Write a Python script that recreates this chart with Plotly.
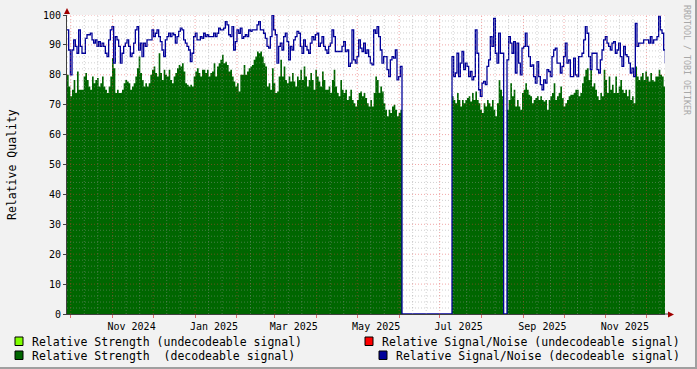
import pandas as pd
import plotly.graph_objects as go

# ---------------- data ----------------
series_start = "2024-09-28 05:00"
sample_step = "1776min"          # ~29.6 h per sample

snr_decodeable = [
    95.0, 88.3, 80.0, 88.3, 91.7, 89.5, 87.2, 95.0, 89.5, 87.2,
    87.2, 92.2, 93.4, 93.4, 93.9, 91.7, 90.6, 91.7, 89.5, 91.1,
    89.5, 90.6, 89.5, 87.2, 86.1, 91.7, 95.0, 96.1, 83.9, 92.8,
    91.7, 89.5, 83.9, 87.2, 89.5, 90.6, 91.7, 89.5, 86.1, 87.2,
    90.6, 95.0, 96.1, 88.3, 90.6, 86.1, 90.6, 89.5, 91.7, 91.7,
    91.7, 95.0, 92.8, 93.9, 95.0, 92.8, 91.1, 88.3, 86.1, 91.7,
    92.8, 93.9, 92.8, 93.9, 93.4, 90.6, 92.8, 94.5, 95.6, 95.0,
    91.7, 90.6, 89.5, 88.3, 84.4, 87.2, 92.8, 93.9, 91.7, 91.7,
    92.8, 92.2, 93.9, 92.8, 93.4, 92.8, 92.8, 92.8,
    93.9, 92.8, 93.9, 95.6, 95.0, 95.0, 95.6, 97.8, 96.7, 93.4,
    92.8, 96.1, 88.3, 91.1, 95.0, 93.9, 95.6, 92.2, 92.8, 93.4,
    92.8, 95.0, 94.5, 95.0, 95.0, 95.0, 96.7, 97.8, 95.0, 95.0,
    93.9, 92.2, 89.5, 88.9, 92.8, 100.0, 95.0, 93.4, 83.9, 89.5,
    90.6, 88.3, 92.8, 93.9, 91.1, 85.0, 89.5, 88.3, 91.7, 92.8,
    94.5, 93.9, 89.5, 87.2, 91.7, 89.5, 88.3, 87.2, 90.6, 92.8,
    91.7, 93.4, 93.9, 89.5, 90.6, 92.8, 89.5, 88.3, 87.2, 89.5,
    90.6, 95.0, 92.8, 87.8, 87.8, 87.8, 87.8, 89.5, 91.1, 87.8,
    88.3, 82.8, 83.9, 95.0, 85.0, 83.9, 86.1, 91.7, 88.9, 87.8,
    90.6, 87.2, 88.3, 86.1, 83.9, 83.3, 95.0, 93.9, 96.1, 92.8,
    88.3, 83.9, 86.1, 86.1, 81.7, 79.4, 85.0, 86.1, 85.6, 88.3,
    78.3, 79.4, 82.8,
    0, 0, 0, 0, 0, 0, 0, 0, 0, 0,
    0, 0, 0, 0, 0, 0, 0, 0, 0, 0,
    0, 0, 0, 0, 0, 0, 0, 0, 0, 0,
    86.1, 79.4, 80.6, 87.2, 79.4, 83.9, 87.8, 81.7, 83.9, 82.8,
    79.4, 81.1, 78.3, 79.4, 95.0, 87.2, 75.0, 72.8, 77.2, 77.8,
    76.7, 82.8, 85.0, 92.8, 89.5, 98.9, 87.2, 83.9, 93.9, 87.2,
    87.2, 0, 0, 85.0, 92.8, 90.6, 87.2,
    91.1, 80.6, 90.6, 83.9, 80.0, 88.9, 89.5, 93.9, 89.5, 86.1,
    82.8, 83.3, 79.4, 77.2, 84.4, 79.4, 76.7, 75.0, 78.3, 77.2,
    81.7, 81.1, 79.4, 86.1, 88.3, 88.9, 83.9, 83.9, 80.6, 82.8,
    86.1, 90.6, 83.9, 85.0, 79.4, 79.4, 85.6, 80.0, 79.4, 86.1,
    86.1, 87.2, 91.7, 96.1, 93.9, 86.1, 81.7, 87.2, 87.2, 87.2,
    81.7, 80.6, 85.0, 88.3, 91.7, 92.8, 90.6, 89.5, 88.3, 90.6,
    91.1, 87.2, 88.3, 90.6, 86.1, 82.8, 89.5, 86.7, 86.1, 83.9,
    80.6, 82.2, 79.4, 97.2, 89.5, 90.6, 90.6, 90.6, 91.7, 91.7,
    91.7, 90.6, 92.8, 90.6, 91.7, 91.7, 92.8, 99.5, 95.0, 93.9,
    88.3, 83.9,
]

strength_decodeable = [
    80.0, 76.1, 72.8, 75.0, 78.3, 73.9, 81.1, 75.0, 75.0, 75.0,
    79.4, 80.6, 78.3, 76.1, 75.0, 79.4, 77.2, 78.3, 78.9, 76.1,
    77.2, 79.4, 76.1, 75.0, 73.9, 76.1, 79.4, 85.6, 82.2, 73.9,
    75.0, 73.9, 73.9, 75.0, 77.2, 78.3, 77.8, 77.2, 75.0, 76.1,
    77.2, 79.4, 82.2, 86.1, 80.6, 78.3, 76.1, 77.2, 76.1, 77.2,
    80.0, 81.7, 82.8, 80.6, 79.4, 87.2, 80.6, 78.3, 81.7, 80.0,
    79.4, 81.7, 78.3, 77.2, 79.4, 80.6, 82.2, 83.3, 82.8, 83.9,
    81.1, 77.2, 76.7, 76.1, 76.7, 76.1, 79.4, 81.1, 82.2, 80.6,
    79.4, 81.7, 81.7, 80.6, 81.7, 79.4, 80.6, 81.1,
    83.9, 79.4, 82.8, 83.9, 85.0, 86.7, 83.9, 84.4, 83.3, 81.1,
    81.7, 79.4, 77.8, 76.1, 77.2, 74.4, 80.0, 80.0, 83.3, 80.0,
    81.1, 82.2, 82.8, 83.3, 85.0, 86.1, 87.8, 87.2, 87.8, 86.1,
    83.9, 82.8, 76.1, 77.2, 75.0, 82.2, 77.2, 73.9, 74.4, 79.4,
    85.0, 79.4, 82.8, 78.3, 77.2, 79.4, 77.8, 80.6, 77.8, 76.1,
    79.4, 78.3, 81.7, 78.3, 82.8, 79.4, 76.1, 78.3, 80.6, 78.3,
    75.0, 81.7, 79.4, 77.8, 76.1, 81.1, 78.3, 75.0, 75.0, 76.1,
    73.9, 78.3, 81.7, 76.1, 73.9, 72.8, 78.3, 75.0, 73.9, 75.0,
    71.6, 72.8, 75.0, 71.6, 70.5, 69.4, 71.6, 73.9, 74.4, 72.8,
    73.9, 72.2, 70.5, 69.4, 71.6, 69.4, 73.9, 79.4, 78.3, 73.9,
    76.1, 74.4, 70.5, 68.3, 66.1, 68.3, 67.2, 69.4, 70.0, 68.3,
    66.1, 67.2, 68.3,
    0, 0, 0, 0, 0, 0, 0, 0, 0, 0,
    0, 0, 0, 0, 0, 0, 0, 0, 0, 0,
    0, 0, 0, 0, 0, 0, 0, 0, 0, 0,
    72.8, 71.6, 70.5, 73.9, 71.6, 69.4, 71.6, 70.5, 71.6, 72.2,
    72.8, 71.1, 73.9, 71.6, 74.4, 71.6, 70.5, 68.3, 67.2, 70.5,
    69.4, 71.6, 70.5, 69.4, 71.6, 68.3, 66.1, 70.5, 78.3, 75.0,
    72.8, 0, 0, 68.3, 71.6, 77.2, 72.8,
    75.0, 69.4, 71.6, 69.4, 68.3, 73.9, 75.0, 77.2, 75.0, 73.3,
    72.8, 70.5, 71.6, 72.2, 72.8, 71.6, 72.8, 71.6, 71.1, 71.6,
    68.3, 71.6, 72.8, 73.9, 77.2, 71.6, 72.8, 73.9, 76.1, 72.2,
    69.4, 70.5, 71.6, 72.8, 73.3, 73.3, 73.9, 75.0, 75.0, 72.8,
    73.9, 77.2, 79.4, 81.7, 82.2, 78.3, 81.7, 76.1, 77.2, 75.0,
    72.8, 71.6, 73.9, 72.8, 81.7, 78.3, 73.9, 79.4, 75.0, 76.7,
    73.9, 79.4, 73.9, 76.1, 78.3, 75.0, 73.9, 75.0, 72.8, 75.0,
    71.6, 72.8, 70.5, 82.8, 79.4, 78.3, 79.4, 80.6, 78.3, 81.1,
    79.4, 77.8, 80.6, 78.3, 77.8, 79.4, 79.4, 81.7, 80.0, 79.4,
    76.1, 76.1,
]

x_labels = ["Nov 2024", "Jan 2025", "Mar 2025", "May 2025", "Jul 2025", "Sep 2025", "Nov 2025"]
x_label_dates = ["2024-11-15", "2025-01-15", "2025-03-15", "2025-05-15", "2025-07-15", "2025-09-15", "2025-11-15"]
y_ticks = [0, 10, 20, 30, 40, 50, 60, 70, 80, 90, 100]

legend_items = [
    ("Relative Strength (undecodeable signal)", "#80FF00"),
    ("Relative Strength  (decodeable signal)", "#006600"),
    ("Relative Signal/Noise (undecodeable signal)", "#FF0000"),
    ("Relative Signal/Noise (decodeable signal)", "#000099"),
]

# ---------------- figure ----------------
W, H = 697, 369
PL, PR, PT, PB = 67, 665, 15, 314
MONO = "DejaVu Sans Mono"


def fx(px):
    return (px - PL) / (PR - PL)


def fy(py):
    return (PB - py) / (PB - PT)


times = pd.date_range(series_start, periods=len(snr_decodeable), freq=sample_step)
step_td = pd.Timedelta(sample_step)
x_range = [times[0], times[0] + step_td * 358.8]

fig = go.Figure()
fig.add_trace(go.Scatter(
    x=times, y=strength_decodeable, mode="lines",
    line=dict(width=0, shape="hv", color="#006600"),
    fill="tozeroy", fillcolor="#006600", hoverinfo="skip", showlegend=False))
fig.add_trace(go.Scatter(
    x=times, y=snr_decodeable, mode="lines",
    line=dict(width=1.3, shape="hv", color="#000099"),
    hoverinfo="skip", showlegend=False))

month_starts = pd.date_range("2024-09-01", "2026-01-01", freq="MS")
minor_days = [d + pd.Timedelta(days=k) for d in month_starts for k in (10, 20)]

shapes = []
# grid drawn above the area (like rrdtool)
for d in minor_days:
    if x_range[0] < d < x_range[1]:
        shapes.append(dict(type="line", xref="x", yref="y", x0=d, x1=d, y0=0, y1=100,
                           line=dict(color="rgba(150,150,150,0.45)", width=1, dash="1px,2px"),
                           layer="above"))
for v in range(2, 101, 2):
    if v % 10:
        shapes.append(dict(type="line", xref="x", yref="y", x0=x_range[0], x1=x_range[1], y0=v, y1=v,
                           line=dict(color="rgba(150,150,150,0.45)", width=1, dash="1px,2px"),
                           layer="above"))
for d in month_starts:
    if x_range[0] < d < x_range[1]:
        shapes.append(dict(type="line", xref="x", yref="y", x0=d, x1=d, y0=0, y1=100,
                           line=dict(color="rgba(225,60,60,0.45)", width=1, dash="1px,2px"),
                           layer="above"))
for v in y_ticks[1:]:
    shapes.append(dict(type="line", xref="x", yref="y", x0=x_range[0], x1=x_range[1], y0=v, y1=v,
                       line=dict(color="rgba(225,60,60,0.45)", width=1, dash="1px,2px"),
                       layer="above"))

# axis arrows and extension
shapes.append(dict(type="line", xref="paper", yref="paper", x0=fx(PR), x1=fx(669), y0=0, y1=0,
                   line=dict(color="#404040", width=1)))
shapes.append(dict(type="path", xref="paper", yref="paper",
                   path=f"M {fx(668)},{fy(311.5)} L {fx(674)},{fy(314.5)} L {fx(668)},{fy(317.5)} Z",
                   fillcolor="#A00000", line=dict(width=0)))
shapes.append(dict(type="path", xref="paper", yref="paper",
                   path=f"M {fx(64)},{fy(14)} L {fx(67)},{fy(8)} L {fx(70)},{fy(14)} Z",
                   fillcolor="#A00000", line=dict(width=0)))
# frame shading
shapes.append(dict(type="rect", xref="paper", yref="paper", x0=fx(0), x1=fx(W), y0=fy(367), y1=fy(H),
                   fillcolor="#A0A0A0", line=dict(width=0)))
shapes.append(dict(type="rect", xref="paper", yref="paper", x0=fx(695), x1=fx(W), y0=fy(0), y1=fy(H),
                   fillcolor="#A0A0A0", line=dict(width=0)))

annotations = []
# legend
legend_pos = [(15, 30, 341.5), (15, 30, 355.5), (365, 380, 341.5), (379, 394, 355.5)]
for (text, color), (sx, tx, cy) in zip(legend_items, legend_pos):
    shapes.append(dict(type="rect", xref="paper", yref="paper",
                       x0=fx(sx), x1=fx(sx + 8), y0=fy(cy - 4.5), y1=fy(cy + 4),
                       fillcolor=color, line=dict(color="#000000", width=1)))
    annotations.append(dict(x=fx(tx), y=fy(cy), xref="paper", yref="paper", text=text,
                            showarrow=False, xanchor="left", yanchor="middle",
                            font=dict(family=MONO, size=11.5, color="#000000")))

annotations.append(dict(x=fx(12), y=fy(165), xref="paper", yref="paper", text="Relative Quality",
                        textangle=-90, showarrow=False, xanchor="center", yanchor="middle",
                        font=dict(family=MONO, size=11.5, color="#000000")))
annotations.append(dict(x=fx(687), y=fy(60), xref="paper", yref="paper", text="RRDTOOL / TOBI OETIKER",
                        textangle=90, showarrow=False, xanchor="center", yanchor="middle",
                        font=dict(family=MONO, size=8.3, color="#A8A8A8")))

fig.update_layout(
    width=W, height=H, autosize=False,
    margin=dict(l=PL, r=W - PR, t=PT, b=H - PB, pad=0),
    paper_bgcolor="#F2F2F2", plot_bgcolor="#FFFFFF",
    shapes=shapes, annotations=annotations, showlegend=False,
    xaxis=dict(
        type="date", range=x_range, automargin=False,
        tickmode="array", tickvals=x_label_dates, ticktext=x_labels,
        ticks="", showgrid=False, zeroline=False,
        showline=True, linecolor="#404040", linewidth=1,
        tickfont=dict(family=MONO, size=10, color="#000000"),
        ticklabelstandoff=3,
        minor=dict(tickmode="array", tickvals=list(month_starts), ticks="outside",
                   ticklen=3, tickcolor="#E07070", tickwidth=1, showgrid=False),
    ),
    yaxis=dict(
        range=[0, 100], automargin=False,
        tickmode="array", tickvals=y_ticks, ticktext=[str(v) for v in y_ticks],
        ticks="outside", ticklen=3, tickcolor="#404040", tickwidth=1,
        showgrid=False, zeroline=False,
        showline=True, linecolor="#404040", linewidth=1,
        tickfont=dict(family=MONO, size=10, color="#000000"),
    ),
)

fig.write_html("out.html")
